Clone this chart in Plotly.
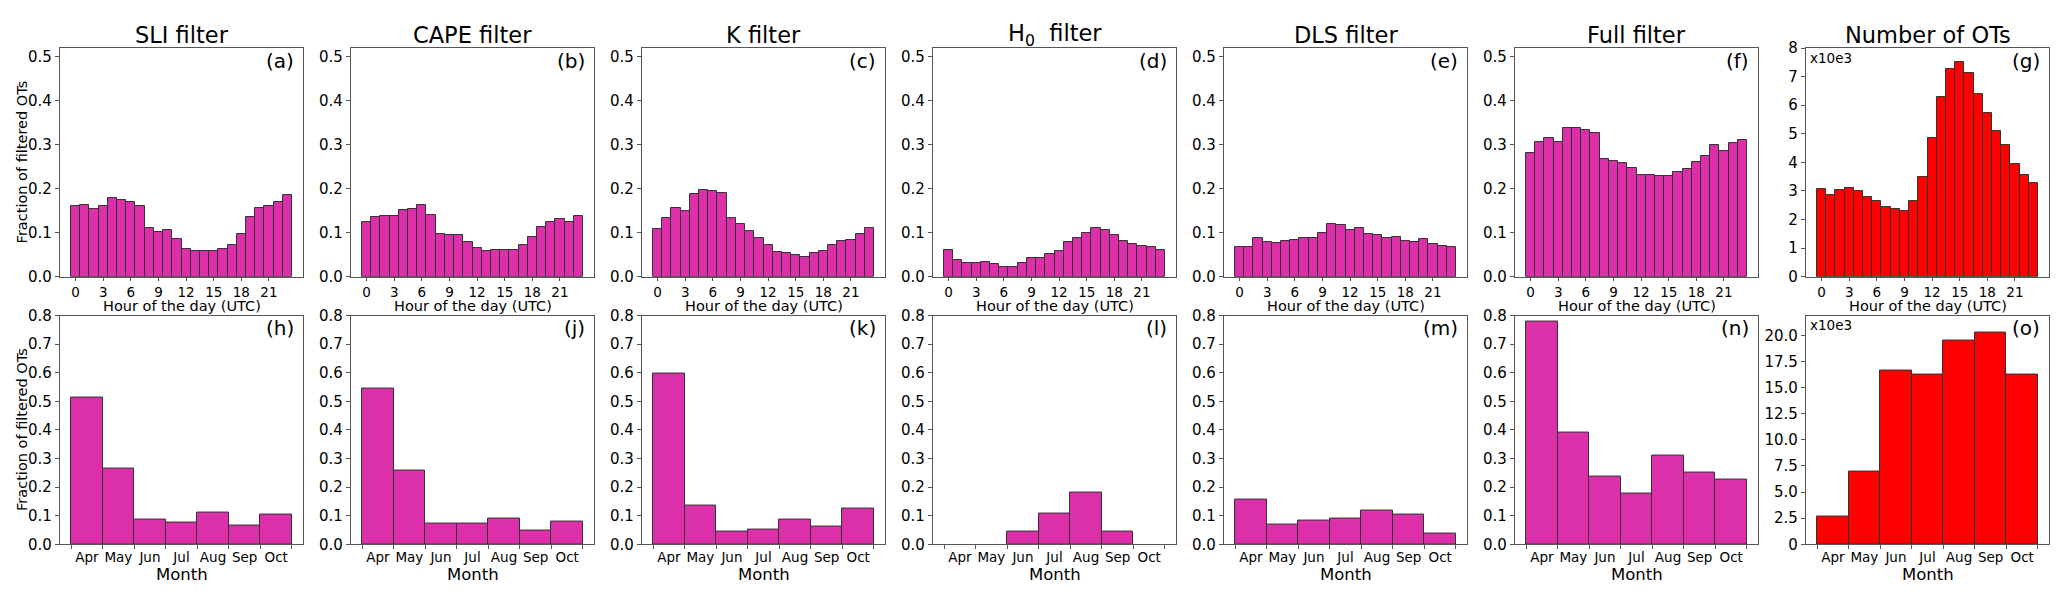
import plotly.graph_objects as go

# ---------------- data ----------------
hours = list(range(24))
hour_ticks = [0, 3, 6, 9, 12, 15, 18, 21]
months = ["Apr", "May", "Jun", "Jul", "Aug", "Sep", "Oct"]

titles = ["SLI filter", "CAPE filter", "K filter", "H<sub>0</sub>  filter",
          "DLS filter", "Full filter", "Number of OTs"]
letters_top = ["(a)", "(b)", "(c)", "(d)", "(e)", "(f)", "(g)"]
letters_bot = ["(h)", "(j)", "(k)", "(l)", "(m)", "(n)", "(o)"]

sli_hour = [0.161, 0.164, 0.154, 0.161, 0.178, 0.174, 0.169, 0.161, 0.111, 0.101,
            0.106, 0.085, 0.062, 0.059, 0.059, 0.059, 0.062, 0.072, 0.098, 0.135,
            0.156, 0.161, 0.169, 0.185]
cape_hour = [0.125, 0.135, 0.138, 0.138, 0.152, 0.155, 0.162, 0.141, 0.098, 0.096,
             0.095, 0.079, 0.065, 0.059, 0.060, 0.060, 0.060, 0.073, 0.090, 0.114,
             0.125, 0.131, 0.125, 0.138]
k_hour = [0.108, 0.133, 0.157, 0.149, 0.189, 0.198, 0.194, 0.190, 0.134, 0.121,
          0.103, 0.089, 0.073, 0.056, 0.055, 0.049, 0.045, 0.053, 0.059, 0.073,
          0.081, 0.084, 0.097, 0.111]
h0_hour = [0.061, 0.038, 0.032, 0.032, 0.033, 0.029, 0.022, 0.022, 0.031, 0.042,
           0.043, 0.051, 0.058, 0.078, 0.087, 0.100, 0.110, 0.107, 0.094, 0.082,
           0.075, 0.070, 0.068, 0.060]
dls_hour = [0.068, 0.067, 0.087, 0.078, 0.077, 0.081, 0.084, 0.088, 0.088, 0.099,
            0.120, 0.118, 0.107, 0.111, 0.097, 0.095, 0.089, 0.091, 0.082, 0.079,
            0.085, 0.075, 0.070, 0.068]
full_hour = [0.282, 0.306, 0.316, 0.307, 0.339, 0.339, 0.333, 0.327, 0.267, 0.264,
             0.259, 0.248, 0.232, 0.231, 0.229, 0.230, 0.238, 0.246, 0.262, 0.275,
             0.299, 0.287, 0.304, 0.312]
n_ots_hour = [3.07, 2.87, 3.03, 3.12, 3.00, 2.78, 2.65, 2.45, 2.36, 2.29,
              2.65, 3.48, 4.86, 6.30, 7.27, 7.52, 7.14, 6.39, 5.71, 5.11,
              4.60, 3.93, 3.55, 3.29]   # x10e3

sli_month = [0.513, 0.266, 0.086, 0.077, 0.110, 0.066, 0.103]
cape_month = [0.546, 0.258, 0.074, 0.074, 0.090, 0.048, 0.079]
k_month = [0.598, 0.135, 0.044, 0.053, 0.088, 0.061, 0.124]
h0_month = [0.0, 0.0, 0.044, 0.106, 0.181, 0.044, 0.0]
dls_month = [0.157, 0.070, 0.083, 0.091, 0.117, 0.104, 0.037]
full_month = [0.779, 0.390, 0.238, 0.178, 0.312, 0.252, 0.225]
n_ots_month = [2.65, 6.94, 16.67, 16.27, 19.54, 20.25, 16.23]   # x10e3

top_series = [sli_hour, cape_hour, k_hour, h0_hour, dls_hour, full_hour, n_ots_hour]
bot_series = [sli_month, cape_month, k_month, h0_month, dls_month, full_month, n_ots_month]

frac_ticks_top = [0.0, 0.1, 0.2, 0.3, 0.4, 0.5]
frac_ticks_bot = [0.0, 0.1, 0.2, 0.3, 0.4, 0.5, 0.6, 0.7, 0.8]
count_ticks_top = [0, 1, 2, 3, 4, 5, 6, 7, 8]
count_ticks_bot = [0, 2.5, 5.0, 7.5, 10.0, 12.5, 15.0, 17.5, 20.0]
count_ticktext_bot = ["0", "2.5", "5.0", "7.5", "10.0", "12.5", "15.0", "17.5", "20.0"]

# ---------------- styling ----------------
PAGE_W, PAGE_H = 2067, 603
OFF = 8                       # default body margin of the html page
W, H = PAGE_W - 2 * OFF, PAGE_H - 2 * OFF
MAGENTA = "#DC30AA"
RED = "#FF0000"
EDGE = "#333333"
SPINE = "#555555"
FONT = "DejaVu Sans"

col_left = [60 + 291 * i for i in range(7)]
col_w = 243
top_row = (40, 276)
bot_row = (316, 552)


def px_x(x):
    return (x - OFF) / W


def px_y(y):
    return 1 - (y - OFF) / H


fig = go.Figure()
annotations = []

for row in range(2):
    for col in range(7):
        idx = row * 7 + col + 1
        xa = "x" if idx == 1 else f"x{idx}"
        ya = "y" if idx == 1 else f"y{idx}"
        xkey = "xaxis" if idx == 1 else f"xaxis{idx}"
        ykey = "yaxis" if idx == 1 else f"yaxis{idx}"
        is_count = (col == 6)
        color = RED if is_count else MAGENTA
        if row == 0:
            xs = hours
            ys = top_series[col]
            rtop, rbot = top_row
        else:
            xs = list(range(len(months)))
            ys = bot_series[col]
            rtop, rbot = bot_row

        fig.add_trace(go.Bar(
            x=xs, y=ys, width=1.0, xaxis=xa, yaxis=ya,
            marker=dict(color=color,
                        line=dict(color=EDGE,
                                  width=[0 if v == 0 else 1 for v in ys])),
            showlegend=False, hoverinfo="x+y",
        ))

        x0 = col_left[col]
        x1 = x0 + col_w
        xdom = [px_x(x0), px_x(x1)]
        ydom = [px_y(rbot), px_y(rtop)]

        common_axis = dict(
            showline=True, mirror=True, linecolor=SPINE, linewidth=1.3,
            showgrid=False, zeroline=False, ticks="outside", ticklen=3,
            tickcolor=SPINE, tickwidth=1,
        )

        if row == 0:
            xaxis = dict(
                domain=xdom, anchor=ya, range=[-1.7, 24.7],
                tickmode="array", tickvals=hour_ticks,
                ticktext=[str(t) for t in hour_ticks],
                tickfont=dict(family=FONT, size=13.5, color="black"),
                **common_axis,
            )
        else:
            edges = [i - 0.5 for i in range(len(months) + 1)]
            ax = dict(common_axis)
            ax["ticklen"] = 0
            xaxis = dict(
                domain=xdom, anchor=ya, range=[-0.85, 6.85],
                tickmode="array", tickvals=list(range(len(months))),
                ticktext=months,
                tickfont=dict(family=FONT, size=13.5, color="black"),
                minor=dict(tickmode="array", tickvals=edges, ticks="outside",
                           ticklen=4, tickcolor=SPINE, showgrid=False),
                **ax,
            )

        if row == 0 and not is_count:
            yaxis = dict(domain=ydom, anchor=xa, range=[0, 0.52],
                         tickmode="array", tickvals=frac_ticks_top,
                         ticktext=[f"{v:.1f}" for v in frac_ticks_top])
        elif row == 0 and is_count:
            yaxis = dict(domain=ydom, anchor=xa, range=[0, 8],
                         tickmode="array", tickvals=count_ticks_top,
                         ticktext=[str(v) for v in count_ticks_top])
        elif row == 1 and not is_count:
            yaxis = dict(domain=ydom, anchor=xa, range=[0, 0.8],
                         tickmode="array", tickvals=frac_ticks_bot,
                         ticktext=[f"{v:.1f}" for v in frac_ticks_bot])
        else:
            yaxis = dict(domain=ydom, anchor=xa, range=[0, 21.9],
                         tickmode="array", tickvals=count_ticks_bot,
                         ticktext=count_ticktext_bot)
        yaxis.update(common_axis)
        yaxis["ticklen"] = 4
        yaxis["tickfont"] = dict(family=FONT, size=15, color="black")

        fig.update_layout({xkey: xaxis, ykey: yaxis})

        cx = (x0 + x1) / 2
        letter = letters_top[col] if row == 0 else letters_bot[col]
        annotations.append(dict(
            text=letter, xref="paper", yref="paper",
            x=px_x(x1 - 7), y=px_y(rtop + 13), xanchor="right", yanchor="middle",
            showarrow=False, font=dict(family=FONT, size=20, color="black"),
        ))
        if row == 0:
            annotations.append(dict(
                text="Hour of the day (UTC)", xref="paper", yref="paper",
                x=px_x(cx), y=px_y(306), xanchor="center", yanchor="middle",
                showarrow=False, font=dict(family=FONT, size=14.5, color="black"),
            ))
            annotations.append(dict(
                text=titles[col], xref="paper", yref="paper",
                x=px_x(cx), y=px_y(27), xanchor="center", yanchor="middle",
                showarrow=False, font=dict(family=FONT, size=22.5, color="black"),
            ))
        else:
            annotations.append(dict(
                text="Month", xref="paper", yref="paper",
                x=px_x(cx), y=px_y(583), xanchor="center", yanchor="middle",
                showarrow=False, font=dict(family=FONT, size=16.5, color="black"),
            ))
        if is_count:
            annotations.append(dict(
                text="x10e3", xref="paper", yref="paper",
                x=px_x(x0 + 2), y=px_y(rtop + 10), xanchor="left", yanchor="middle",
                showarrow=False, font=dict(family=FONT, size=13.5, color="black"),
            ))

for (rtop, rbot) in (top_row, bot_row):
    annotations.append(dict(
        text="Fraction of filtered OTs", xref="paper", yref="paper",
        x=px_x(22), y=px_y((rtop + rbot) / 2), xanchor="center", yanchor="middle",
        textangle=-90, showarrow=False,
        font=dict(family=FONT, size=14.5, color="black"),
    ))

fig.update_layout(
    width=W, height=H,
    margin=dict(l=0, r=0, t=0, b=0),
    paper_bgcolor="white", plot_bgcolor="white",
    bargap=0, annotations=annotations,
    font=dict(family=FONT, color="black"),
)

fig.write_html("out.html")
